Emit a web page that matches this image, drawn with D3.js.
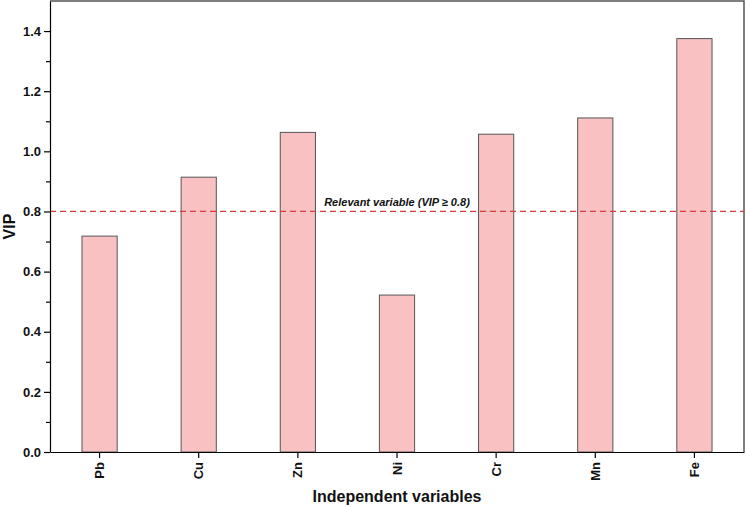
<!DOCTYPE html>
<html lang="en">
<head>
<meta charset="UTF-8">
<title>VIP</title>
<script src="https://d3js.org/d3.v7.min.js"></script>
<style>
  body { margin: 0; background: #fff; }
  svg { display: block; font-family: Arial, "Liberation Sans", sans-serif; }
  .axis text { font-size: 13px; font-weight: bold; fill: #111; }
  .axis path, .axis line { stroke: #000; stroke-width: 1.2px; }
</style>
</head>
<body>
<svg width="746" height="507"></svg>
<script>
// data
const elements = ["Pb", "Cu", "Zn", "Ni", "Cr", "Mn", "Fe"];
const vip = [0.718, 0.914, 1.063, 0.522, 1.057, 1.111, 1.375];
const yTicks = [0, 0.2, 0.4, 0.6, 0.8, 1.0, 1.2, 1.4];
const threshold = 0.8;

const svg = d3.select("svg");
const mLeft = 50, mRight = 744, mTop = 1, mBottom = 452;

const x = d3.scaleBand().domain(elements).range([mLeft, mRight]).paddingInner(0.645).paddingOuter(0.3225);
const y = d3.scaleLinear().domain([0, 1.5]).range([mBottom, mTop]);

// frame (top + right)
svg.append("path")
  .attr("d", `M${mLeft},${mTop}H${mRight}V${mBottom}`)
  .attr("fill", "none").attr("stroke", "#555").attr("stroke-width", 1.5);

// bars
svg.append("g").selectAll("rect")
  .data(elements)
  .join("rect")
  .attr("x", d => x(d))
  .attr("width", x.bandwidth())
  .attr("y", (d, i) => y(vip[i]))
  .attr("height", (d, i) => y(0) - y(vip[i]))
  .attr("fill", "#f9c1c2")
  .attr("stroke", "#555")
  .attr("stroke-width", 1);

// threshold line
svg.append("line")
  .attr("x1", mLeft).attr("x2", mRight)
  .attr("y1", y(threshold)).attr("y2", y(threshold))
  .attr("stroke", "#d63c3c").attr("stroke-width", 1.3)
  .attr("stroke-dasharray", "6,4");

svg.append("text")
  .attr("x", (mLeft + mRight) / 2)
  .attr("y", y(threshold) - 5)
  .attr("text-anchor", "middle")
  .attr("font-size", 11).attr("font-weight", "bold").attr("font-style", "italic")
  .attr("fill", "#111")
  .text("Relevant variable (VIP \u2265 0.8)");

// y axis with minor ticks
svg.append("g")
  .attr("class", "axis")
  .attr("transform", `translate(${mLeft},0)`)
  .call(d3.axisLeft(y).tickValues(d3.range(0.1, 1.5, 0.2)).tickSize(4).tickFormat(""))
  .call(g => g.select(".domain").remove());
svg.append("g")
  .attr("class", "axis")
  .attr("transform", `translate(${mLeft},0)`)
  .call(d3.axisLeft(y).tickValues(yTicks).tickSize(6).tickSizeOuter(0).tickFormat(d3.format(".1f")));

// x axis
const xa = svg.append("g")
  .attr("class", "axis")
  .attr("transform", `translate(0,${mBottom})`)
  .call(d3.axisBottom(x).tickSize(6).tickSizeOuter(0));
xa.selectAll("text")
  .attr("transform", "rotate(-90)")
  .attr("text-anchor", "end")
  .attr("x", -10).attr("y", 0).attr("dy", "0.35em");

// axis titles
svg.append("text")
  .attr("x", (mLeft + mRight) / 2).attr("y", 502)
  .attr("text-anchor", "middle")
  .attr("font-size", 16).attr("font-weight", "bold").attr("fill", "#111")
  .text("Independent variables");
svg.append("text")
  .attr("transform", `translate(15,${(mTop + mBottom) / 2}) rotate(-90)`)
  .attr("text-anchor", "middle")
  .attr("font-size", 16).attr("font-weight", "bold").attr("fill", "#111")
  .text("VIP");
</script>
</body>
</html>
